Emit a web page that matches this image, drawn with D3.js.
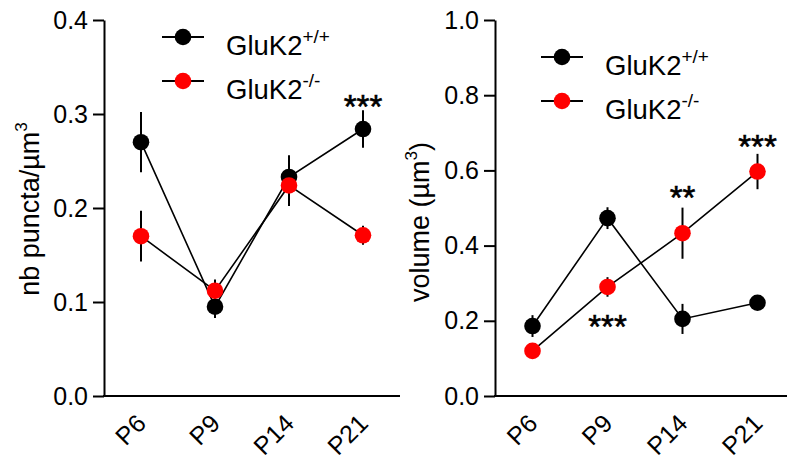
<!DOCTYPE html>
<html><head><meta charset="utf-8">
<script src="https://cdn.jsdelivr.net/npm/d3@7"></script>
<style>
body{margin:0;background:#fff;}
svg{display:block;font-family:"Liberation Sans",Arial,sans-serif;}
</style></head>
<body>
<svg id="c" width="787" height="459"></svg>
<script>
const categories = ["P6","P9","P14","P21"];
const punctaWT = [0.270, 0.095, 0.233, 0.284];
const punctaWTErr = [0.032, 0.012, 0.023, 0.020];
const punctaKO = [0.170, 0.112, 0.224, 0.171];
const punctaKOErr = [0.027, 0.012, 0.022, 0.010];
const volumeWT = [0.186, 0.473, 0.205, 0.248];
const volumeWTErr = [0.029, 0.029, 0.040, 0.012];
const volumeKO = [0.120, 0.290, 0.433, 0.597];
const volumeKOErr = [0.010, 0.026, 0.068, 0.047];
const punctaTicks = [0, 0.1, 0.2, 0.3, 0.4];
const volumeTicks = [0, 0.2, 0.4, 0.6, 0.8, 1.0];
const legendNames = ["GluK2", "GluK2"];
const legendSups = ["+/+", "-/-"];
const seriesColors = ["#000000", "#ff0000"];
// stars: [category, value (y), label]
const punctaStars = [["P21", 0.317, "***"]];
const volumeStars = [["P14", 0.549, "**"], ["P21", 0.685, "***"], ["P9", 0.205, "***"]];

const svg = d3.select("#c");

function panel(opt) {
  const g = svg.append("g");
  const x = d3.scalePoint().domain(categories).range([opt.x0, opt.x1]).padding(0.5);
  const y = d3.scaleLinear().domain([0, opt.ymax]).range([396, 20]);

  // y axis
  const ya = g.append("g").attr("transform", `translate(${opt.x0},0)`)
    .call(d3.axisLeft(y).tickValues(opt.ticks).tickFormat(d3.format(".1f")).tickSize(11).tickPadding(5).tickSizeOuter(0));
  ya.select(".domain").attr("stroke", "#000").attr("stroke-width", 2);
  ya.selectAll(".tick line").attr("stroke", "#000").attr("stroke-width", 2);
  ya.selectAll(".tick text").attr("font-size", 25).attr("font-family", "Liberation Sans, Arial, sans-serif").attr("fill", "#000");

  // x axis
  const xa = g.append("g").attr("transform", `translate(0,396)`)
    .call(d3.axisBottom(x).tickSize(0).tickPadding(0).tickSizeOuter(0));
  xa.select(".domain").attr("stroke", "#000").attr("stroke-width", 2)
    .attr("d", `M${opt.x0 - 1},0H${opt.x1}`);
  xa.selectAll(".tick text")
    .attr("font-size", 25).attr("font-family", "Liberation Sans, Arial, sans-serif").attr("fill", "#000")
    .attr("text-anchor", "end").attr("dy", 0).attr("y", 0)
    .attr("transform", "translate(6,29) rotate(-45)");

  const series = [[opt.wt, opt.wtErr], [opt.ko, opt.koErr]];
  const line = d3.line().x((d, i) => x(categories[i])).y(d => y(d));
  series.forEach(([vals, errs]) => {
    g.append("path").datum(vals).attr("d", line).attr("fill", "none")
      .attr("stroke", "#000").attr("stroke-width", 1.6);
    g.selectAll(null).data(vals).enter().append("line")
      .attr("x1", (d, i) => x(categories[i])).attr("x2", (d, i) => x(categories[i]))
      .attr("y1", (d, i) => y(d + errs[i])).attr("y2", (d, i) => y(d - errs[i]))
      .attr("stroke", "#000").attr("stroke-width", 2);
  });
  series.forEach(([vals], si) => {
    g.selectAll(null).data(vals).enter().append("circle")
      .attr("cx", (d, i) => x(categories[i])).attr("cy", d => y(d)).attr("r", 8.3)
      .attr("fill", seriesColors[si]);
  });

  // stars
  opt.stars.forEach(([c, v, s]) => {
    g.append("text").attr("x", x(c)).attr("y", y(v) + 19.5)
      .attr("text-anchor", "middle").attr("font-size", 33).attr("fill", "#000")
      .attr("stroke", "#000").attr("stroke-width", 0.6).text(s);
  });

  // legend
  legendNames.forEach((n, i) => {
    const ly = opt.legY + i * 44;
    g.append("line").attr("x1", opt.legX - 21).attr("x2", opt.legX + 21)
      .attr("y1", ly).attr("y2", ly).attr("stroke", "#000").attr("stroke-width", 2);
    g.append("circle").attr("cx", opt.legX).attr("cy", ly).attr("r", 8.3).attr("fill", seriesColors[i]);
    const t = g.append("text").attr("x", opt.legX + 43).attr("y", ly + 18)
      .attr("font-size", 27.5).attr("fill", "#000");
    t.append("tspan").text(n);
    t.append("tspan").attr("font-size", 19).attr("dy", -12).text(legendSups[i]);
  });

  // axis title
  const at = g.append("text")
    .attr("transform", `translate(${opt.titleX},${opt.titleY}) rotate(-90)`)
    .attr("text-anchor", "middle").attr("font-size", 27).attr("fill", "#000");
  at.append("tspan").text(opt.title[0]);
  at.append("tspan").attr("font-size", 17).attr("dy", -12).text("3");
  if (opt.title[1]) at.append("tspan").attr("dy", 12).text(opt.title[1]);
}

panel({x0: 104, x1: 400, ymax: 0.4, ticks: punctaTicks,
  wt: punctaWT, wtErr: punctaWTErr, ko: punctaKO, koErr: punctaKOErr,
  stars: punctaStars, legX: 183, legY: 37,
  title: ["nb puncta/µm", ""], titleX: 39, titleY: 209});
panel({x0: 495, x1: 795, ymax: 1.0, ticks: volumeTicks,
  wt: volumeWT, wtErr: volumeWTErr, ko: volumeKO, koErr: volumeKOErr,
  stars: volumeStars, legX: 562, legY: 57,
  title: ["volume (µm", ")"], titleX: 429, titleY: 222});
</script>
</body></html>
